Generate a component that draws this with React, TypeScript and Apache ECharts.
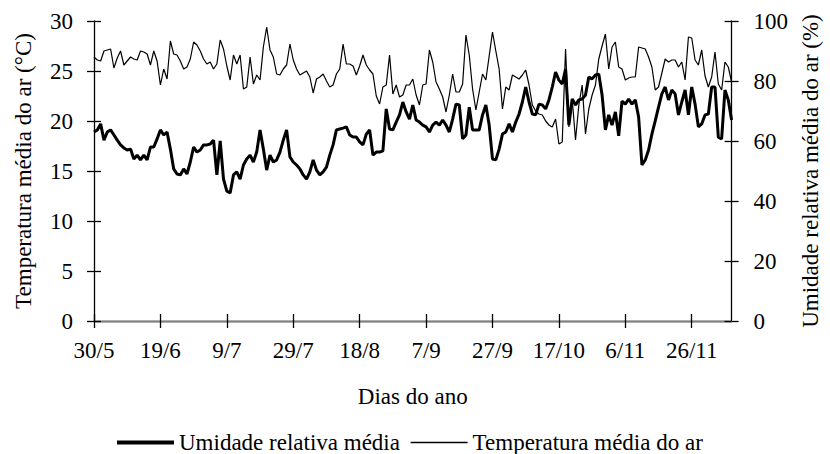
import React, { useEffect, useRef } from "react";
import * as echarts from "echarts";

// First day of the series (30/5) and the number of daily points
const startDay = { day: 30, month: 5 };
const dayCount = 193;

// Daily mean relative humidity (%) – thick line, right axis
const umidade: number[] = [
  63.0, 63.7, 65.7, 60.3, 63.0, 63.7, 62.0, 60.3, 58.7, 57.7,
  57.0, 57.3, 54.0, 55.3, 53.7, 55.3, 53.7, 58.0, 58.0, 60.7,
  63.7, 62.0, 63.0, 57.3, 50.7, 49.0, 48.7, 50.7, 49.0, 53.0,
  58.0, 56.3, 57.0, 58.7, 58.7, 59.0, 60.3, 48.7, 60.0, 47.3,
  43.3, 42.7, 48.7, 49.7, 47.3, 52.0, 54.0, 55.3, 53.0, 56.3,
  63.7, 57.3, 50.3, 55.3, 53.0, 53.7, 56.3, 60.3, 63.7, 54.7,
  53.0, 52.0, 50.7, 48.7, 47.3, 49.7, 53.7, 50.3, 48.7, 49.7,
  51.3, 55.3, 58.7, 63.7, 64.0, 64.3, 64.7, 62.0, 61.3, 61.3,
  59.7, 58.7, 62.3, 63.7, 55.3, 56.3, 56.3, 56.7, 70.7, 64.0,
  63.7, 66.3, 68.7, 73.0, 69.7, 67.3, 72.0, 67.0, 66.3, 65.3,
  64.7, 63.0, 65.3, 66.3, 65.3, 67.0, 65.3, 63.0, 67.3, 72.3,
  72.0, 60.7, 62.0, 71.3, 63.7, 63.7, 63.7, 68.7, 72.0, 65.3,
  54.0, 53.7, 57.3, 62.3, 63.0, 65.7, 63.0, 66.3, 69.0, 73.0,
  78.0, 73.0, 69.0, 68.7, 72.3, 72.0, 70.7, 73.7, 78.0, 83.0,
  80.3, 79.0, 84.0, 65.3, 74.0, 72.0, 73.7, 74.0, 75.3, 81.3,
  80.7, 82.0, 82.3, 75.3, 63.7, 68.7, 65.3, 69.7, 61.7, 73.3,
  72.3, 74.0, 72.3, 73.7, 68.0, 52.0, 53.7, 57.0, 62.3, 66.7,
  71.3, 75.7, 78.0, 73.7, 77.0, 75.7, 68.7, 73.0, 77.0, 68.7,
  78.0, 72.3, 64.7, 65.7, 68.7, 69.0, 78.0, 78.0, 61.3, 60.7,
  77.0, 73.7, 67.0,
];

// Daily mean air temperature (°C) – thin line, left axis
const temperatura: number[] = [
  26.4, 26.1, 26.0, 27.0, 27.1, 27.2, 25.3, 26.3, 27.0, 25.6,
  26.0, 26.4, 26.2, 26.1, 27.0, 26.9, 26.7, 25.6, 27.0, 26.0,
  23.6, 25.2, 24.2, 28.0, 26.7, 26.6, 26.0, 25.2, 25.4, 26.2,
  27.9, 27.6, 27.0, 26.2, 25.7, 25.9, 25.2, 25.7, 28.1, 27.2,
  25.5, 24.1, 26.6, 25.7, 26.6, 23.2, 23.4, 26.4, 23.7, 24.6,
  24.1, 27.4, 29.4, 27.1, 26.4, 24.7, 24.6, 25.2, 25.6, 27.7,
  26.1, 25.2, 24.6, 24.8, 25.0, 24.4, 22.8, 24.2, 24.4, 24.7,
  24.0, 23.4, 23.6, 24.7, 25.2, 27.7, 25.7, 25.7, 25.5, 24.6,
  25.5, 26.6, 25.6, 25.1, 24.7, 22.5, 21.7, 23.4, 23.6, 26.6,
  22.7, 23.6, 22.4, 22.6, 23.6, 23.6, 24.2, 22.6, 21.6, 23.6,
  23.7, 27.1, 25.9, 23.9, 23.2, 22.4, 20.9, 22.6, 24.7, 22.9,
  22.9, 23.7, 28.6, 26.6, 23.2, 21.1, 22.9, 24.7, 24.1, 26.5,
  28.9, 27.0, 25.2, 21.2, 23.4, 23.1, 24.6, 24.4, 24.2, 24.6,
  25.1, 23.6, 21.6, 21.0, 20.7, 20.6, 20.0, 19.6, 19.4, 20.2,
  17.7, 17.9, 27.2, 19.4, 22.2, 18.1, 21.6, 23.6, 18.7, 21.2,
  22.6, 23.6, 26.2, 27.5, 28.7, 25.2, 27.4, 27.9, 25.4, 25.2,
  24.1, 24.3, 24.4, 24.4, 27.4, 27.3, 27.2, 26.4, 25.4, 23.1,
  23.4, 24.8, 26.2, 25.9, 26.1, 26.1, 25.4, 25.9, 24.1, 28.4,
  28.3, 26.1, 25.6, 27.1, 24.5, 23.4, 24.4, 26.9, 23.7, 23.1,
  25.9, 25.4, 23.9,
];

const tickStep = 20; // one labelled tick every 20 days

function buildDays(): string[] {
  const out: string[] = [];
  const base = Date.UTC(2001, startDay.month - 1, startDay.day);
  for (let i = 0; i < dayCount; i++) {
    const d = new Date(base + i * 86400000);
    out.push(`${d.getUTCDate()}/${d.getUTCMonth() + 1}`);
  }
  return out;
}

const FONT = "'Liberation Serif', 'Times New Roman', serif";
const FS = 23;

export default function App() {
  const ref = useRef<HTMLDivElement>(null);

  useEffect(() => {
    if (!ref.current) return;
    const chart = echarts.init(ref.current, null, { renderer: "svg" });
    const days = buildDays();
    const txt = { fontFamily: FONT, fontSize: FS, color: "#000" };
    const black = { color: "#000", width: 1.3 };

    const baseX = {
      type: "category" as const,
      data: days,
      boundaryGap: false,
      position: "bottom" as const,
    };

    chart.setOption({
      animation: false,
      textStyle: { fontFamily: FONT, color: "#000" },
      grid: { left: 94, right: 94, top: 21, bottom: 133, containLabel: false },
      legend: {
        left: 110,
        top: 426,
        itemWidth: 57,
        itemHeight: 14,
        itemGap: 10,
        textStyle: txt,
        data: [
          {
            name: "Umidade relativa média",
            itemStyle: { opacity: 0 },
            lineStyle: { width: 4, color: "#000" },
          },
          {
            name: "Temperatura média do ar",
            itemStyle: { opacity: 0 },
            lineStyle: { width: 1.3, color: "#000" },
          },
        ],
      },
      xAxis: [
        {
          ...baseX,
          name: "Dias do ano",
          nameLocation: "middle",
          nameGap: 64,
          nameTextStyle: txt,
          axisLine: { show: true, lineStyle: black },
          axisTick: {
            show: true,
            inside: false,
            length: 7,
            interval: tickStep - 1,
            lineStyle: black,
          },
          axisLabel: { ...txt, interval: tickStep - 1, margin: 18 },
          splitLine: { show: false },
        },
        {
          ...baseX,
          axisLine: { show: false },
          axisTick: {
            show: true,
            inside: true,
            length: 7,
            interval: tickStep - 1,
            lineStyle: black,
          },
          axisLabel: { show: false },
          splitLine: { show: false },
        },
        {
          ...baseX,
          position: "top",
          axisLine: { show: true, lineStyle: { color: "#808080", width: 1.3 } },
          axisTick: { show: false },
          axisLabel: { show: false },
          splitLine: { show: false },
        },
      ],
      yAxis: [
        {
          type: "value",
          position: "left",
          min: 0,
          max: 30,
          interval: 5,
          name: "Temperatura média do ar (°C)",
          nameLocation: "middle",
          nameGap: 59,
          nameTextStyle: txt,
          axisLine: { show: true, lineStyle: black },
          axisTick: { show: true, inside: false, length: 7, lineStyle: black },
          axisLabel: { ...txt, margin: 21 },
          splitLine: { show: false },
        },
        {
          type: "value",
          position: "right",
          min: 0,
          max: 100,
          interval: 20,
          name: "Umidade relativa média do ar (%)",
          nameLocation: "middle",
          nameGap: 66,
          nameTextStyle: txt,
          axisLine: { show: true, lineStyle: black },
          axisTick: { show: true, inside: false, length: 7, lineStyle: black },
          axisLabel: { ...txt, margin: 22 },
          splitLine: { show: false },
        },
        {
          type: "value",
          position: "left",
          min: 0,
          max: 30,
          interval: 5,
          axisLine: { show: false },
          axisTick: { show: true, inside: true, length: 7, lineStyle: black },
          axisLabel: { show: false },
          splitLine: { show: false },
        },
        {
          type: "value",
          position: "right",
          min: 0,
          max: 100,
          interval: 20,
          axisLine: { show: false },
          axisTick: { show: true, inside: true, length: 7, lineStyle: black },
          axisLabel: { show: false },
          splitLine: { show: false },
        },
      ],
      series: [
        {
          name: "Umidade relativa média",
          type: "line",
          xAxisIndex: 0,
          yAxisIndex: 1,
          data: umidade,
          symbol: "none",
          lineStyle: { color: "#000", width: 3 },
          itemStyle: { color: "#000" },
          z: 3,
        },
        {
          name: "Temperatura média do ar",
          type: "line",
          xAxisIndex: 0,
          yAxisIndex: 0,
          data: temperatura,
          symbol: "none",
          lineStyle: { color: "#000", width: 1.2 },
          itemStyle: { color: "#000" },
          z: 2,
        },
      ],
    });

    return () => chart.dispose();
  }, []);

  return (
    <div
      ref={ref}
      style={{
        position: "fixed",
        left: 0,
        top: 0,
        width: 830,
        height: 454,
        background: "#fff",
      }}
    />
  );
}
